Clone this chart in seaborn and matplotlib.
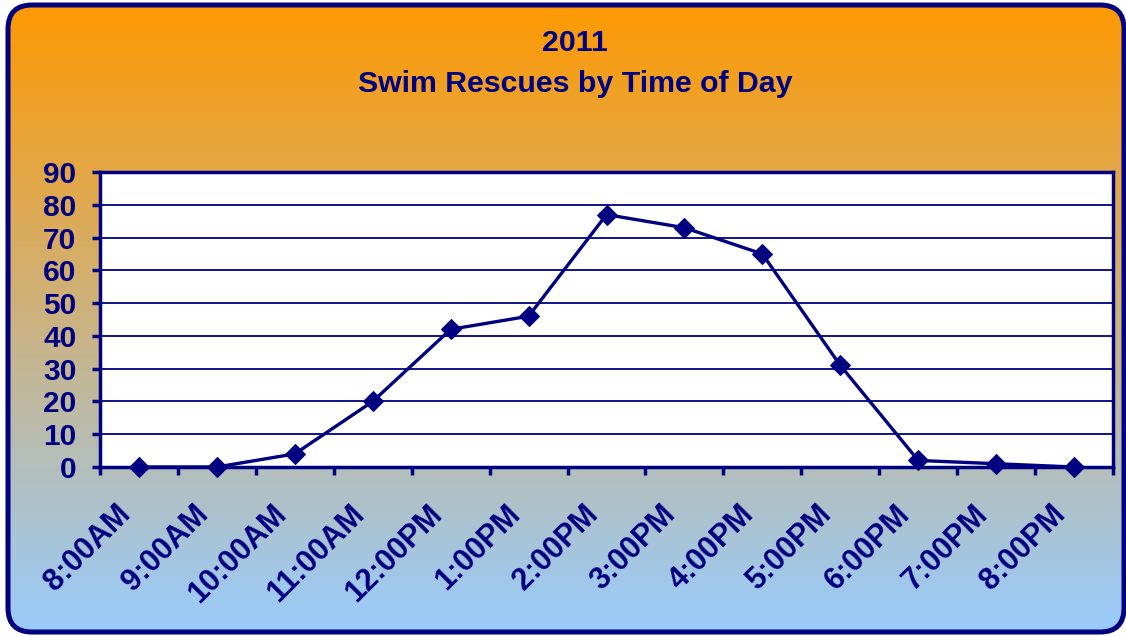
import numpy as np
import pandas as pd
import matplotlib
matplotlib.use("Agg")
import matplotlib.pyplot as plt
import matplotlib.transforms as mtransforms
from matplotlib.patches import FancyBboxPatch
from matplotlib.ticker import FixedLocator
import seaborn as sns

# ---- data ----
times = ["8:00AM", "9:00AM", "10:00AM", "11:00AM", "12:00PM", "1:00PM", "2:00PM",
         "3:00PM", "4:00PM", "5:00PM", "6:00PM", "7:00PM", "8:00PM"]
rescues = [0, 0, 4, 20, 42, 46, 77, 73, 65, 31, 2, 1, 0]
y_ticks = [0, 10, 20, 30, 40, 50, 60, 70, 80, 90]
title_year = "2011"
title_main = "Swim Rescues by Time of Day"

NAVY = "#000080"
W, H = 1126, 636

sns.set_theme(style="white")
plt.rcParams["font.family"] = ["Liberation Sans", "DejaVu Sans"]

fig = plt.figure(figsize=(W / 100, H / 100), dpi=100)
fig.patch.set_facecolor("white")

# background axes in pixel coordinates
bg = fig.add_axes([0, 0, 1, 1], zorder=0)
bg.set_xlim(0, W)
bg.set_ylim(H, 0)
bg.axis("off")
top = np.array([255, 153, 0]) / 255
bot = np.array([153, 204, 255]) / 255
t = np.linspace(0, 1, H)[:, None]
grad = (top[None, :] * (1 - t) + bot[None, :] * t)[:, None, :]
im = bg.imshow(grad, extent=[0, W, H, 0], aspect="auto", zorder=0)
clip = FancyBboxPatch((8, 5), 1116, 627, boxstyle="round,pad=0,rounding_size=24",
                      facecolor="none", edgecolor="none", transform=bg.transData)
bg.add_patch(clip)
im.set_clip_path(clip)
border = FancyBboxPatch((8, 5), 1116, 627, boxstyle="round,pad=0,rounding_size=24",
                        facecolor="none", edgecolor=NAVY, linewidth=3.6, zorder=2)
bg.add_patch(border)

# main axes
ax = fig.add_axes([100 / W, 1 - 467 / H, (1113 - 100) / W, (467 - 172) / H], zorder=1)
ax.set_facecolor("white")
df = pd.DataFrame({"time": times, "rescues": rescues})
sns.lineplot(data=df, x="time", y="rescues", sort=False, ax=ax, color=NAVY,
             linewidth=2.4, marker="D", markersize=10, markeredgecolor=NAVY,
             markerfacecolor=NAVY, clip_on=False, zorder=5)

n = len(times)
ax.set_xlim(-0.5, n - 0.5)
ax.set_ylim(0, 90)
ax.set_yticks(y_ticks)
ax.yaxis.grid(True, color=NAVY, linewidth=1.3)
ax.set_axisbelow(True)

ax.set_xticks(range(n))
ax.set_xticklabels(times)
ax.xaxis.set_minor_locator(FixedLocator(np.arange(-0.5, n, 1.0)))
ax.tick_params(axis="x", which="major", length=0, pad=31, labelsize=22,
               labelcolor=NAVY)
ax.tick_params(axis="x", which="minor", length=6, width=2.5, color=NAVY,
               direction="out", bottom=True)
ax.tick_params(axis="y", length=6, width=2.5, color=NAVY, direction="out",
               pad=11, labelsize=21.5, labelcolor=NAVY, left=True)
shift = mtransforms.ScaledTranslation(-13 / 100, 0, fig.dpi_scale_trans)
for lab in ax.get_xticklabels():
    lab.set_rotation(45)
    lab.set_ha("right")
    lab.set_va("center")
    lab.set_rotation_mode("anchor")
    lab.set_fontweight("bold")
    lab.set_transform(lab.get_transform() + shift)
for lab in ax.get_yticklabels():
    lab.set_fontweight("bold")

for s in ax.spines.values():
    s.set_color(NAVY)
    s.set_linewidth(2.5)
    s.set_visible(True)
ax.set_xlabel("")
ax.set_ylabel("")

fig.text(575 / W, 1 - 43 / H, title_year, ha="center", va="center",
         fontsize=21.8, fontweight="bold", color=NAVY)
fig.text(575 / W, 1 - 84 / H, title_main, ha="center", va="center",
         fontsize=21.8, fontweight="bold", color=NAVY)

fig.savefig("out.png", dpi=100)
